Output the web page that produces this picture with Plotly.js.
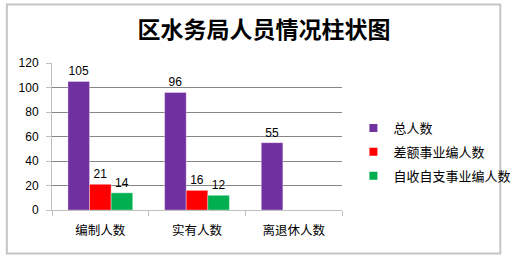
<!DOCTYPE html>
<html>
<head>
<meta charset="utf-8">
<script src="https://cdn.plot.ly/plotly-3.0.1.min.js"></script>
<style>
html,body{margin:0;padding:0;background:#fff;}
#chart{width:528px;height:260px;}
</style>
</head>
<body>
<div id="chart"></div>
<script>
var chartTitle = "区水务局人员情况柱状图";
var categories = ["编制人数", "实有人数", "离退休人数"];
var seriesNames = ["总人数", "差额事业编人数", "自收自支事业编人数"];
var totalStaff = [105, 96, 55];
var diffFunded = [21, 16, null];
var selfFunded = [14, 12, null];
var colors = ["#7030A0", "#FF0000", "#00B050"];
var yTicks = [0, 20, 40, 60, 80, 100, 120];

var seriesValues = [totalStaff, diffFunded, selfFunded];
var cjk = '"Noto Sans CJK SC", "Noto Sans", sans-serif';
var latin = '"Liberation Sans", Arial, sans-serif';

var traces = [];
seriesValues.forEach(function (vals, i) {
  traces.push({
    type: 'bar',
    x: categories,
    y: vals,
    name: seriesNames[i],
    showlegend: false,
    marker: {color: colors[i], line: {color: 'rgba(255,255,255,0.35)', width: 1}},
    text: vals.map(function (v) { return v === null ? '' : String(v); }),
    textposition: 'outside',
    textfont: {family: latin, size: 12, color: '#000'},
    cliponaxis: false,
    hoverinfo: 'skip'
  });
});
seriesNames.forEach(function (n, i) {
  traces.push({
    type: 'scatter',
    mode: 'markers',
    x: [null], y: [null],
    name: n,
    legendgroup: 'g' + i,
    showlegend: true,
    marker: {symbol: 'square', size: 8, color: colors[i]},
    hoverinfo: 'skip'
  });
});

var L = 52, R = 357, T = 63, B = 210, W = 528, H = 260;
function px(x) { return (x - L) / (R - L); }
function py(y) { return (B - y) / (B - T); }

var layout = {
  width: W, height: H,
  margin: {l: L, r: W - R, t: T, b: H - B, pad: 0},
  paper_bgcolor: '#fff',
  plot_bgcolor: '#fff',
  barmode: 'group',
  bargap: 0.33,
  bargroupgap: 0,
  showlegend: true,
  title: {
    text: chartTitle,
    font: {family: cjk, size: 23, color: '#000', weight: 'bold'},
    x: 0.5, xanchor: 'center',
    y: 1 - 30 / H, yanchor: 'middle', yref: 'container'
  },
  xaxis: {
    type: 'category',
    showgrid: false,
    showline: true, linecolor: '#bfbfbf', linewidth: 1,
    ticks: 'outside', ticklen: 5, tickcolor: '#bfbfbf', tickson: 'boundaries',
    ticklabelstandoff: 9,
    tickfont: {family: cjk, size: 12.5, color: '#000'},
    zeroline: false,
    fixedrange: true
  },
  yaxis: {
    range: [0, 120],
    tickvals: yTicks,
    showgrid: true, gridcolor: '#868686', gridwidth: 1,
    showline: true, linecolor: '#bfbfbf', linewidth: 1,
    ticks: 'outside', ticklen: 5, tickcolor: '#bfbfbf',
    ticklabelstandoff: 5,
    tickfont: {family: latin, size: 12, color: '#000'},
    zeroline: false,
    fixedrange: true
  },
  legend: {
    x: px(369), xanchor: 'left',
    y: py(113), yanchor: 'top',
    font: {family: cjk, size: 13, color: '#000'},
    tracegroupgap: 4,
    itemwidth: 30,
    bgcolor: 'rgba(0,0,0,0)'
  },
  shapes: [{
    type: 'rect', xref: 'paper', yref: 'paper',
    x0: px(4.5), x1: px(523.5), y0: py(253.5), y1: py(4.5),
    line: {color: '#c4c4c4', width: 2},
    fillcolor: 'rgba(0,0,0,0)',
    layer: 'below'
  }]
};

Plotly.newPlot('chart', traces, layout, {staticPlot: true, displayModeBar: false});
</script>
</body>
</html>
